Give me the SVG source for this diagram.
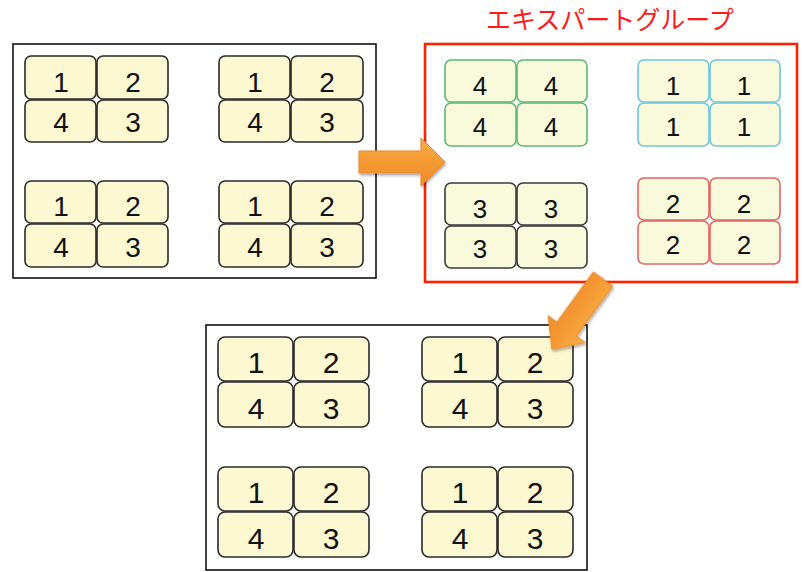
<svg xmlns="http://www.w3.org/2000/svg" width="804" height="572" viewBox="0 0 804 572">
<defs>
<style>
.frame{fill:#fff;stroke:#111;stroke-width:1.6}
.xframe{fill:#fff;stroke:#FF2200;stroke-width:2.6}
.c{fill:#FCF9D2;stroke:#2a2a2a;stroke-width:1.6}
.cg{fill:#F9F9DC;stroke:#5CB874;stroke-width:1.6}
.cb{fill:#F9F9DC;stroke:#6CC6DC;stroke-width:1.6}
.ck{fill:#F9F9DC;stroke:#3a3a3a;stroke-width:1.6}
.cr{fill:#F9F9DC;stroke:#E06464;stroke-width:1.6}
.n{font-family:"Liberation Sans",Arial,sans-serif;font-size:28px;fill:#111;text-anchor:middle}
.nx{font-family:"Liberation Sans",Arial,sans-serif;font-size:26px;fill:#111;text-anchor:middle}
.nb{font-family:"Liberation Sans",Arial,sans-serif;font-size:30px;fill:#111;text-anchor:middle}
.title{font-family:"Noto Sans CJK JP","Noto Sans",sans-serif;font-size:25px;fill:#FF1A1A;text-anchor:middle}
.arrow{fill:url(#og);stroke:#E88A2C;stroke-width:1}
</style>
<linearGradient id="og" x1="0" y1="0" x2="0" y2="1">
<stop offset="0" stop-color="#F8AE4A"/>
<stop offset="0.5" stop-color="#F59A33"/>
<stop offset="1" stop-color="#EE8C2A"/>
</linearGradient>
<filter id="sh" x="-20%" y="-20%" width="140%" height="140%">
<feGaussianBlur in="SourceAlpha" stdDeviation="1.5"/>
<feOffset dx="1" dy="1.5" result="b"/>
<feComponentTransfer><feFuncA type="linear" slope="0.35"/></feComponentTransfer>
<feMerge><feMergeNode/><feMergeNode in="SourceGraphic"/></feMerge>
</filter>
</defs>

<g id="home-groups">
<rect class="frame" x="13" y="44" width="363" height="234"/>
<g id="home-1">
<rect class="c" x="25" y="56" width="71" height="43" rx="6"/><rect class="c" x="97" y="56" width="71" height="43" rx="6"/>
<rect class="c" x="25" y="100" width="71" height="42" rx="6"/><rect class="c" x="97" y="100" width="71" height="42" rx="6"/>
<text class="n" x="61" y="92">1</text><text class="n" x="133" y="92">2</text>
<text class="n" x="61" y="132">4</text><text class="n" x="133" y="132">3</text>
</g>
<g id="home-2">
<rect class="c" x="219" y="56" width="71" height="43" rx="6"/><rect class="c" x="291" y="56" width="72" height="43" rx="6"/>
<rect class="c" x="219" y="100" width="71" height="42" rx="6"/><rect class="c" x="291" y="100" width="72" height="42" rx="6"/>
<text class="n" x="255" y="92">1</text><text class="n" x="327" y="92">2</text>
<text class="n" x="255" y="132">4</text><text class="n" x="327" y="132">3</text>
</g>
<g id="home-3">
<rect class="c" x="25" y="181" width="71" height="42" rx="6"/><rect class="c" x="97" y="181" width="71" height="42" rx="6"/>
<rect class="c" x="25" y="224" width="71" height="43" rx="6"/><rect class="c" x="97" y="224" width="71" height="43" rx="6"/>
<text class="n" x="61" y="216">1</text><text class="n" x="133" y="216">2</text>
<text class="n" x="61" y="257">4</text><text class="n" x="133" y="257">3</text>
</g>
<g id="home-4">
<rect class="c" x="219" y="181" width="71" height="42" rx="6"/><rect class="c" x="291" y="181" width="72" height="42" rx="6"/>
<rect class="c" x="219" y="224" width="71" height="43" rx="6"/><rect class="c" x="291" y="224" width="72" height="43" rx="6"/>
<text class="n" x="255" y="216">1</text><text class="n" x="327" y="216">2</text>
<text class="n" x="255" y="257">4</text><text class="n" x="327" y="257">3</text>
</g>
</g>

<g id="expert-groups">
<text class="title" x="610" y="29">エキスパートグループ</text>
<rect class="xframe" x="425" y="44" width="372" height="238"/>
<g id="expert-4">
<rect class="cg" x="445" y="60" width="71" height="42" rx="6"/><rect class="cg" x="517" y="60" width="70" height="42" rx="6"/>
<rect class="cg" x="445" y="103" width="71" height="43" rx="6"/><rect class="cg" x="517" y="103" width="70" height="43" rx="6"/>
<text class="nx" x="480" y="95">4</text><text class="nx" x="551" y="95">4</text>
<text class="nx" x="480" y="136">4</text><text class="nx" x="551" y="136">4</text>
</g>
<g id="expert-1">
<rect class="cb" x="638" y="60" width="71" height="42" rx="6"/><rect class="cb" x="710" y="60" width="70" height="42" rx="6"/>
<rect class="cb" x="638" y="103" width="71" height="43" rx="6"/><rect class="cb" x="710" y="103" width="70" height="43" rx="6"/>
<text class="nx" x="673" y="95">1</text><text class="nx" x="744" y="95">1</text>
<text class="nx" x="673" y="136">1</text><text class="nx" x="744" y="136">1</text>
</g>
<g id="expert-3">
<rect class="ck" x="445" y="183" width="71" height="42" rx="6"/><rect class="ck" x="517" y="183" width="70" height="42" rx="6"/>
<rect class="ck" x="445" y="226" width="71" height="42" rx="6"/><rect class="ck" x="517" y="226" width="70" height="42" rx="6"/>
<text class="nx" x="480" y="218">3</text><text class="nx" x="551" y="218">3</text>
<text class="nx" x="480" y="258">3</text><text class="nx" x="551" y="258">3</text>
</g>
<g id="expert-2">
<rect class="cr" x="638" y="178" width="71" height="42" rx="6"/><rect class="cr" x="710" y="178" width="70" height="42" rx="6"/>
<rect class="cr" x="638" y="221" width="71" height="43" rx="6"/><rect class="cr" x="710" y="221" width="70" height="43" rx="6"/>
<text class="nx" x="673" y="213">2</text><text class="nx" x="744" y="213">2</text>
<text class="nx" x="673" y="254">2</text><text class="nx" x="744" y="254">2</text>
</g>
</g>

<g id="return-groups">
<rect class="frame" x="206" y="325" width="381" height="245"/>
<g id="return-1">
<rect class="c" x="218" y="337" width="75" height="44" rx="7"/><rect class="c" x="294" y="337" width="75" height="44" rx="7"/>
<rect class="c" x="218" y="382" width="75" height="45" rx="7"/><rect class="c" x="294" y="382" width="75" height="45" rx="7"/>
<text class="nb" x="256" y="373">1</text><text class="nb" x="331" y="373">2</text>
<text class="nb" x="256" y="419">4</text><text class="nb" x="331" y="419">3</text>
</g>
<g id="return-2">
<rect class="c" x="422" y="337" width="75" height="44" rx="7"/><rect class="c" x="498" y="337" width="75" height="44" rx="7"/>
<rect class="c" x="422" y="382" width="75" height="45" rx="7"/><rect class="c" x="498" y="382" width="75" height="45" rx="7"/>
<text class="nb" x="460" y="373">1</text><text class="nb" x="535" y="373">2</text>
<text class="nb" x="460" y="419">4</text><text class="nb" x="535" y="419">3</text>
</g>
<g id="return-3">
<rect class="c" x="218" y="467" width="75" height="44" rx="7"/><rect class="c" x="294" y="467" width="75" height="44" rx="7"/>
<rect class="c" x="218" y="512" width="75" height="45" rx="7"/><rect class="c" x="294" y="512" width="75" height="45" rx="7"/>
<text class="nb" x="256" y="503">1</text><text class="nb" x="331" y="503">2</text>
<text class="nb" x="256" y="549">4</text><text class="nb" x="331" y="549">3</text>
</g>
<g id="return-4">
<rect class="c" x="422" y="467" width="75" height="44" rx="7"/><rect class="c" x="498" y="467" width="75" height="44" rx="7"/>
<rect class="c" x="422" y="512" width="75" height="45" rx="7"/><rect class="c" x="498" y="512" width="75" height="45" rx="7"/>
<text class="nb" x="460" y="503">1</text><text class="nb" x="535" y="503">2</text>
<text class="nb" x="460" y="549">4</text><text class="nb" x="535" y="549">3</text>
</g>
</g>

<g id="connectors" filter="url(#sh)">
<path class="arrow" transform="translate(359,162)" d="M0,-11 L62,-11 L62,-24 L86,0 L62,24 L62,11 L0,11 Z"/>
<path class="arrow" transform="translate(603,279) rotate(126)" d="M0,-12 L62,-12 L62,-23 L87,0 L62,23 L62,12 L0,12 Z"/>
</g>
</svg>
